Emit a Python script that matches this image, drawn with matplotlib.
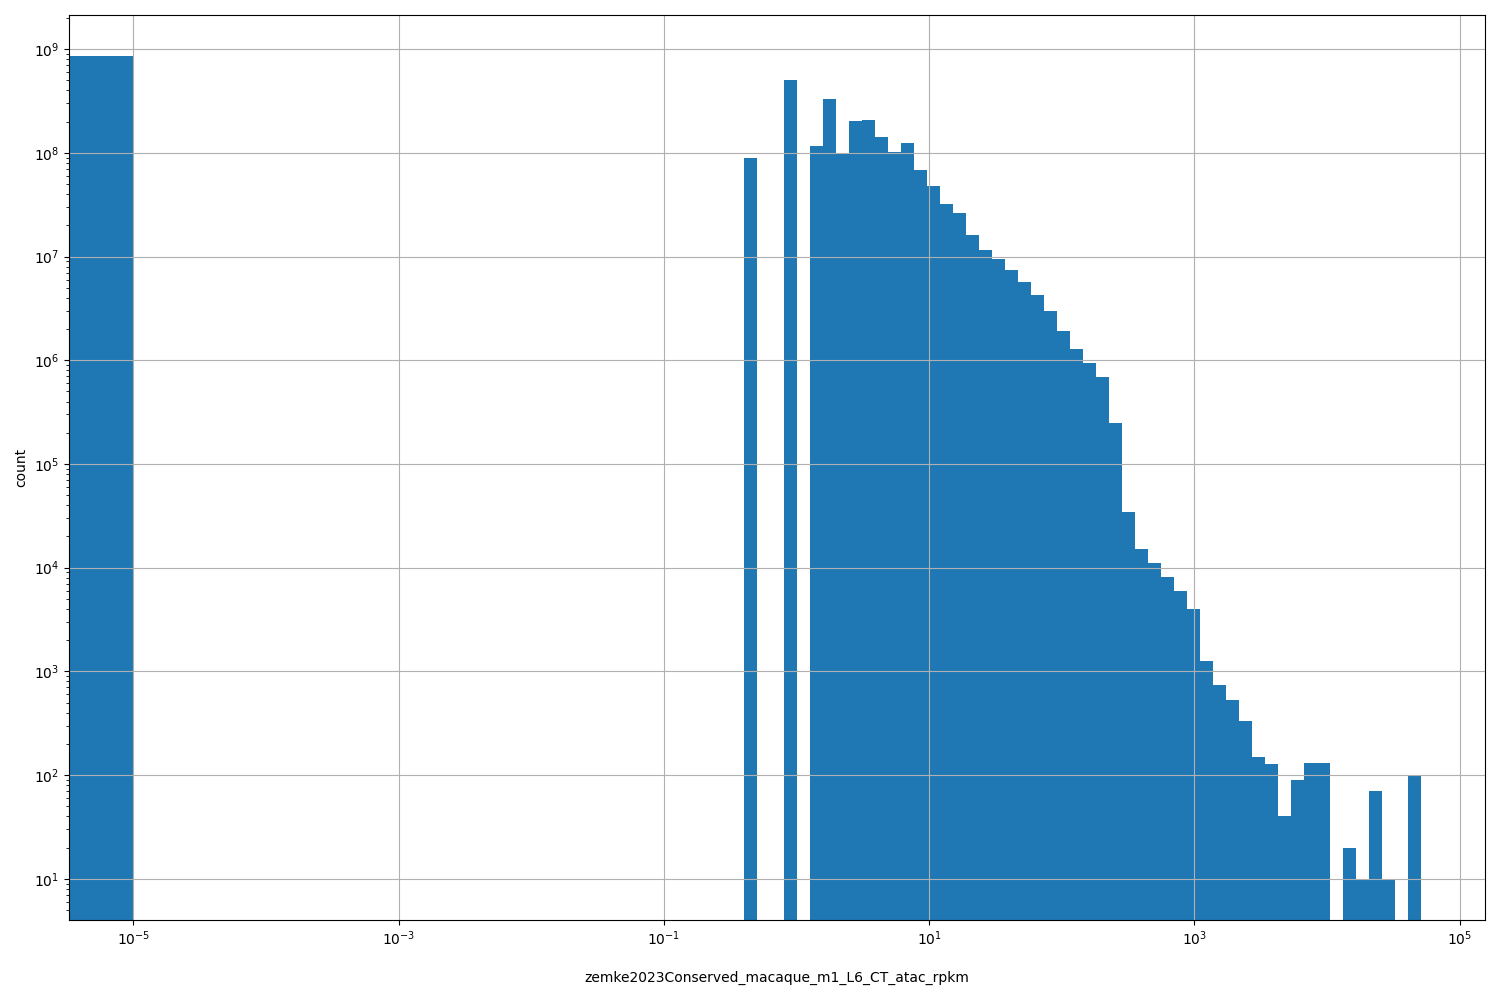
import numpy as np
import matplotlib
matplotlib.use("Agg")
import matplotlib.pyplot as plt
from matplotlib.ticker import NullLocator

# log-spaced bins from 1e-5 to the max value, plus one bin [0, 1e-5) holding the zeros
lo_exp = -5.0
hi_exp = 4.706
n_log_bins = 99

zero_count = 8.55e8

# counts for the log bins that are non-empty, starting at log bin index 47
first_bin = 47
counts = [8.87e7, 0, 0, 5.02e8, 0, 1.16e8, 3.29e8, 9.78e7, 2.02e8, 2.07e8,
          1.42e8, 1.01e8, 1.24e8, 6.79e7, 4.76e7, 3.19e7, 2.61e7, 1.60e7, 1.15e7, 9.4e6,
          7.36e6, 5.65e6, 4.23e6, 2.97e6, 1.90e6, 1.27e6, 9.33e5, 6.84e5, 2.51e5, 3.48e4,
          1.53e4, 1.10e4, 8.2e3, 6.0e3, 4.04e3, 1.27e3, 745, 533, 335, 150,
          129, 40, 90, 130, 130, 0, 20, 10, 70, 10,
          0, 100]

xticks = [1e-5, 1e-3, 1e-1, 1e1, 1e3, 1e5]
xlabel = "zemke2023Conserved_macaque_m1_L6_CT_atac_rpkm"

edges = np.concatenate([[0.0], np.logspace(lo_exp, hi_exp, n_log_bins + 1)])
weights = np.zeros(n_log_bins + 1)
weights[0] = zero_count
weights[1 + first_bin:1 + first_bin + len(counts)] = counts

fig, ax = plt.subplots(figsize=(15, 10), dpi=100)
fig.subplots_adjust(left=0.046, right=0.99, top=0.985, bottom=0.08)

ax.hist(edges[:-1], bins=edges, weights=weights, color="#1f77b4")
ax.set_xscale("log")
ax.set_yscale("log")
ax.set_xticks(xticks)
ax.xaxis.set_minor_locator(NullLocator())
ax.grid(True)
ax.set_ylabel("count")
ax.set_xlabel(xlabel, labelpad=16)

fig.savefig("out.png")
